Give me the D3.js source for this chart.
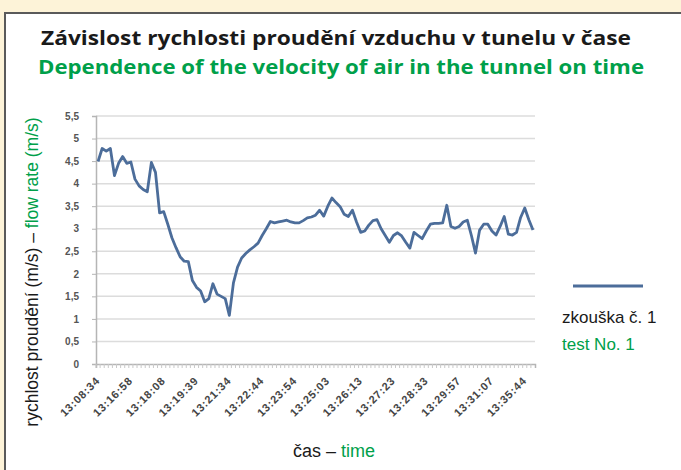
<!DOCTYPE html>
<html><head><meta charset="utf-8">
<script src="https://cdn.jsdelivr.net/npm/d3@7"></script>
<style>body{margin:0;background:#fdf3d8;}svg{display:block;}</style>
</head><body>
<script>
const timeLabels = ["13:08:34","13:16:58","13:18:08","13:19:39","13:21:34","13:22:44","13:23:54","13:25:03","13:26:13","13:27:23","13:28:33","13:29:57","13:31:07","13:35:44"];
const labelEvery = 8;
const velocity = [4.49,4.78,4.72,4.78,4.18,4.45,4.60,4.45,4.48,4.10,3.95,3.87,3.82,4.47,4.25,3.35,3.38,3.10,2.80,2.58,
2.38,2.28,2.27,1.85,1.70,1.62,1.38,1.45,1.78,1.55,1.50,1.45,1.08,1.80,2.15,2.35,2.45,2.53,2.60,2.68,
2.85,3.00,3.16,3.13,3.15,3.17,3.19,3.15,3.13,3.13,3.18,3.24,3.26,3.30,3.41,3.28,3.50,3.68,3.58,3.49,
3.32,3.27,3.41,3.15,2.92,2.95,3.08,3.18,3.20,3.00,2.85,2.70,2.85,2.91,2.84,2.70,2.57,2.92,2.85,2.78,
2.95,3.10,3.12,3.12,3.13,3.52,3.05,3.01,3.05,3.15,3.19,2.85,2.46,2.97,3.10,3.10,2.95,2.86,3.05,3.27,
2.88,2.86,2.92,3.25,3.46,3.20,2.97];
const yTicks = [0,0.5,1,1.5,2,2.5,3,3.5,4,4.5,5,5.5];
const seriesName = ["zkouška č. 1","test No. 1"];

const W=681,H=470, green="#00a04a", lineColor="#4c6d9a";
const svg=d3.select("body").append("svg").attr("width",W).attr("height",H);
svg.append("rect").attr("width",W).attr("height",H).attr("fill","#fdf3d8");
svg.append("rect").attr("x",5).attr("y",13).attr("width",W).attr("height",H).attr("fill","#fff").attr("stroke","#5a5a5a").attr("stroke-width",2);

// titles
svg.append("text").attr("x",336).attr("y",45).attr("text-anchor","middle")
 .attr("font-family","Open Sans").attr("font-weight",700).attr("font-size",20)
 .attr("textLength",590).attr("lengthAdjust","spacingAndGlyphs").attr("fill","#1a1a1a")
 .text("Závislost rychlosti proudění vzduchu v tunelu v čase");
svg.append("text").attr("x",341).attr("y",74).attr("text-anchor","middle")
 .attr("font-family","Open Sans").attr("font-weight",700).attr("font-size",20)
 .attr("textLength",606).attr("lengthAdjust","spacingAndGlyphs").attr("fill",green)
 .text("Dependence of the velocity of air in the tunnel on time");

const idx=d3.range(velocity.length);
const x=d3.scaleBand().domain(idx).range([96,535]);
const xc=i=>x(i)+x.bandwidth()/2;
const y=d3.scaleLinear().domain([0,5.5]).range([364,116]);

const g=svg.append("g");
// gridlines
g.selectAll(".grid").data(yTicks.slice(1)).join("line")
 .attr("x1",96).attr("x2",535).attr("y1",d=>y(d)).attr("y2",d=>y(d))
 .attr("stroke","#dcdcdc").attr("stroke-width",1.5);

// y axis
const yAxis=d3.axisLeft(y).tickValues(yTicks).tickSize(4).tickPadding(13)
 .tickFormat(d=>String(d).replace(".",","));
const ya=svg.append("g").attr("transform","translate(96,0)").call(yAxis);
ya.select(".domain").attr("stroke","#b5b5b5").attr("stroke-width",1.5);
ya.selectAll(".tick line").attr("stroke","#b5b5b5");
ya.selectAll("text").attr("font-family","Liberation Sans").attr("font-size",10).attr("fill","#555").attr("font-weight",700);

// x axis
const xAxis=d3.axisBottom(x).tickSize(4).tickFormat(()=>"");
const xa=svg.append("g").attr("transform","translate(0,364)").call(xAxis);
xa.select(".domain").attr("stroke","#b5b5b5").attr("stroke-width",1.5);
xa.selectAll(".tick line").attr("stroke","#c8c8c8").attr("transform",`translate(${-x.bandwidth()/2},0)`);
svg.selectAll(".xl").data(timeLabels).join("text")
 .attr("transform",(d,k)=>`translate(${xc(k*labelEvery)+2},382) rotate(-45)`)
 .attr("text-anchor","end").attr("font-family","Liberation Sans").attr("font-weight",700)
 .attr("font-size",11).attr("textLength",50).attr("lengthAdjust","spacing")
 .attr("fill","#444").text(d=>d);

// line
const line=d3.line().x((d,i)=>xc(i)).y(d=>y(d)).curve(d3.curveLinear);
svg.append("path").datum(velocity).attr("d",line).attr("fill","none")
 .attr("stroke",lineColor).attr("stroke-width",2.8).attr("stroke-linejoin","round");

// axis titles
const yt=svg.append("text").attr("transform","translate(38,272) rotate(-90)").attr("text-anchor","middle")
 .attr("font-family","Liberation Sans").attr("font-size",17.5);
yt.append("tspan").attr("fill","#1a1a1a").text("rychlost proudění (m/s) – ");
yt.append("tspan").attr("fill",green).text("flow rate (m/s)");
const xt=svg.append("text").attr("x",334).attr("y",457).attr("text-anchor","middle")
 .attr("font-family","Liberation Sans").attr("font-size",18);
xt.append("tspan").attr("fill","#1a1a1a").text("čas – ");
xt.append("tspan").attr("fill",green).text("time");

// legend
svg.append("line").attr("x1",573).attr("x2",643).attr("y1",286).attr("y2",286)
 .attr("stroke",lineColor).attr("stroke-width",3);
svg.append("text").attr("x",562).attr("y",323).attr("font-family","Liberation Sans").attr("font-size",17)
 .attr("fill","#1a1a1a").text(seriesName[0]);
svg.append("text").attr("x",562).attr("y",350).attr("font-family","Liberation Sans").attr("font-size",17)
 .attr("fill",green).text(seriesName[1]);
</script>
</body></html>
